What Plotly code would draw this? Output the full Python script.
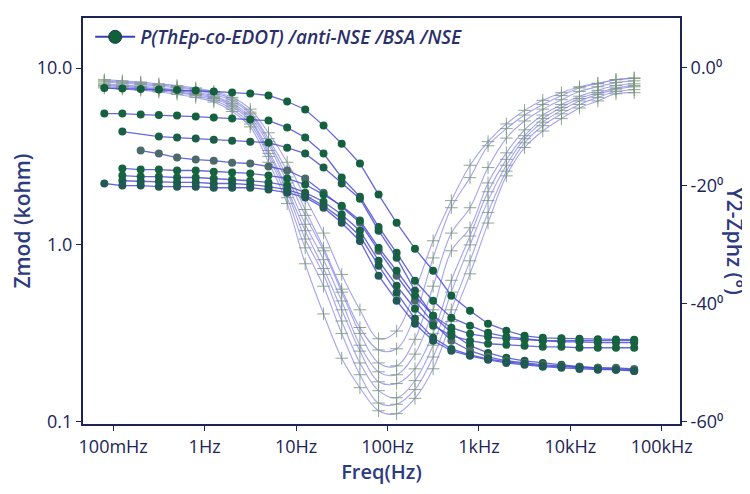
import plotly.graph_objects as go

freq_hz = [0.08, 0.126, 0.2, 0.316, 0.5, 0.8, 1.26, 2.0, 3.16, 5.0,
           8.0, 12.6, 20.0, 31.6, 50.0, 80.0, 126.0, 200.0, 316.0, 500.0,
           800.0, 1260.0, 2000.0, 3160.0, 5000.0, 8000.0, 12600.0, 20000.0, 31600.0, 50000.0]

legend_name = "<i>P(ThEp-co-EDOT) /anti-NSE /BSA /NSE</i>"

# Zmod (kohm) per measurement
zmod_a = [7.70, 7.65, 7.60, 7.55, 7.50, 7.45, 7.36, 7.26, 7.17, 6.99, 6.46, 5.82, 4.72, 3.73, 2.88,
          1.92, 1.33, 0.949, 0.712, 0.514, 0.423, 0.357, 0.326, 0.305, 0.297, 0.295, 0.293, 0.292, 0.291, 0.290]
zmod_d = [5.52, 5.52, 5.45, 5.42, 5.38, 5.31, 5.24, 5.17, 5.11, 5.04, 4.60, 4.04, 3.28, 2.40, 1.87,
          1.26, 0.90, 0.625, 0.482, 0.386, 0.348, 0.317, 0.301, 0.293, 0.286, 0.282, 0.282, 0.279, 0.279, 0.279]
zmod_e = [None, 4.37, None, 4.09, 4.04, 3.99, 3.93, 3.88, 3.83, 3.78, 3.54, 3.28, 2.73, 2.22, 1.82,
          1.20, 0.844, 0.549, 0.396, 0.317, 0.268, 0.244, 0.229, 0.220, 0.214, 0.209, 0.204, 0.201, 0.198, 0.196]
zmod_f = [None, None, 3.41, 3.28, 3.11, 3.03, 2.99, 2.91, 2.88, 2.77, 2.63, 2.37, 1.97, 1.64, 1.33,
          0.925, 0.667, 0.482, 0.361, 0.286, 0.251, 0.232, 0.220, 0.214, 0.209, 0.206, 0.204, 0.201, 0.201, 0.198]
zmod_g = [None, 2.70, 2.66, 2.66, 2.63, 2.63, 2.59, 2.56, 2.53, 2.46, 2.37, 2.19, 1.92, 1.66, 1.37,
          0.962, 0.712, 0.514, 0.396, 0.339, 0.313, 0.301, 0.293, 0.290, 0.286, 0.286, 0.286, 0.286, 0.286, 0.286]
zmod_h = [None, 2.46, 2.43, 2.43, 2.40, 2.40, 2.37, 2.33, 2.30, 2.25, 2.16, 1.97, 1.75, 1.48, 1.20,
          0.812, 0.586, 0.434, 0.348, 0.305, 0.286, 0.275, 0.271, 0.268, 0.264, 0.264, 0.261, 0.261, 0.261, 0.261]
zmod_i = [None, 2.30, 2.28, 2.28, 2.25, 2.25, 2.22, 2.22, 2.19, 2.13, 2.05, 1.90, 1.66, 1.40, 1.12,
          0.760, 0.535, 0.381, 0.297, 0.257, 0.238, 0.226, 0.217, 0.212, 0.206, 0.204, 0.201, 0.198, 0.196, 0.193]
zmod_j = [2.22, 2.16, 2.16, 2.13, 2.13, 2.13, 2.10, 2.10, 2.10, 2.05, 1.97, 1.85, 1.62, 1.33, 1.05,
          0.667, 0.482, 0.357, 0.286, 0.251, 0.235, 0.223, 0.214, 0.209, 0.204, 0.201, 0.198, 0.196, 0.196, 0.193]

# Phase (degrees) per measurement
phase_1 = [-2.0, -2.2, -2.4, -2.7, -3.0, -3.4, -4.0, -5.0, -7.0, -11, -16, -22, -28, -35, -41,
           -45.9, -44.6, -37.8, -29.3, -22.5, -16.5, -12.5, -9.5, -7.2, -5.5, -4.2, -3.2, -2.6, -2.0, -1.7]
phase_2 = [-2.2, -2.4, -2.6, -2.9, -3.2, -3.6, -4.2, -5.3, -7.5, -12, -17.5, -24, -30.5, -37.5, -44,
           -47.8, -47.6, -42, -32.2, -23.7, -18.6, -13.2, -10.3, -8.0, -6.2, -4.7, -3.4, -2.7, -2.0, -1.8]
phase_3 = [-2.4, -2.6, -2.8, -3.1, -3.4, -3.8, -4.5, -5.6, -7.8, -12.5, -18.5, -25, -31, -38, -45,
           -50, -50.5, -46, -37, -28, -23.7, -16.9, -11.9, -9.0, -7.0, -5.4, -4.0, -3.2, -2.5, -2.2]
phase_4 = [-2.7, -2.9, -3.1, -3.4, -3.7, -4.1, -4.8, -6.0, -8.3, -13, -19.5, -26.5, -32.5, -39.5, -47,
           -51.5, -52, -48.5, -41, -31, -27.1, -19.5, -14.4, -10.5, -8.0, -6.2, -4.8, -3.8, -3.0, -2.7]
phase_5 = [-2.9, -3.1, -3.3, -3.6, -3.9, -4.3, -5.0, -6.3, -8.7, -14, -20.5, -27.6, -34, -41, -48,
           -53.2, -53.5, -51, -45, -36, -28.5, -21, -15.5, -11.5, -8.6, -6.7, -5.2, -4.2, -3.4, -3.0]
phase_6 = [-3.0, -3.2, -3.4, -3.7, -4.0, -4.5, -5.2, -6.6, -9.0, -14.5, -21, -29, -35, -42.9, -50,
           -54.7, -55.9, -53, -47, -38, -30, -22.5, -16.5, -12.0, -9.2, -7.2, -5.6, -4.5, -3.6, -3.2]
phase_7 = [-3.2, -3.4, -3.6, -3.9, -4.2, -4.7, -5.5, -7.0, -9.5, -15, -22, -30.5, -37, -45, -52,
           -56.8, -57, -54.5, -49, -41, -32.7, -24.5, -17.5, -12.7, -9.8, -7.8, -6.2, -5.0, -4.0, -3.7]
phase_8 = [-3.4, -3.6, -3.8, -4.1, -4.5, -5.0, -5.8, -7.4, -10, -16, -23, -33.2, -41.7, -49.2, -54.2,
           -58.1, -58.6, -56, -51, -43, -34.9, -26.3, -18.3, -13.5, -10.7, -8.6, -6.8, -5.6, -4.4, -4.2]

x_tickvals = [0.1, 1, 10, 100, 1000, 10000, 100000]
x_ticktext = ["100mHz", "1Hz", "10Hz", "100Hz", "1kHz", "10kHz", "100kHz"]
zmod_tickvals = [0.1, 1, 10]
zmod_ticktext = ["0.1", "1.0", "10.0"]
phase_tickvals = [0, -20, -40, -60]
phase_ticktext = ["0.0\u2070", "-20\u2070", "-40\u2070", "-60\u2070"]

zmod_series = [zmod_a, zmod_d, zmod_e, zmod_f, zmod_g, zmod_h, zmod_i, zmod_j]
zmod_marker_colors = ["#12603c", "#16623e", "#1a5f45", "#4d6a6a", "#15643f", "#17633f", "#1a5e48", "#205a52"]
phase_series = [phase_1, phase_2, phase_3, phase_4, phase_5, phase_6, phase_7, phase_8]

navy = "#1c2456"
title_col = "#2c3a80"
font_fam = "Open Sans, Noto Sans, sans-serif"

fig = go.Figure()

for ph in phase_series:
    fig.add_trace(go.Scatter(
        x=freq_hz, y=ph, yaxis="y", mode="lines+markers",
        line=dict(color="rgba(125,125,235,0.7)", width=1.1, shape="spline"),
        marker=dict(symbol="cross-thin", size=9,
                    line=dict(color="rgba(125,150,120,0.85)", width=1)),
        showlegend=False, hoverinfo="skip"))

for i, zm in enumerate(zmod_series):
    fig.add_trace(go.Scatter(
        x=freq_hz, y=zm, yaxis="y2", mode="lines+markers", connectgaps=True,
        line=dict(color="rgba(75,75,215,0.85)", width=1.3),
        marker=dict(symbol="circle", size=8, color=zmod_marker_colors[i]),
        name=legend_name, showlegend=False))

# legend entry
fig.add_trace(go.Scatter(
    x=[None], y=[None], yaxis="y2", mode="lines+markers",
    line=dict(color="#3b3fb5", width=2),
    marker=dict(symbol="circle", size=13, color="#10603a",
                line=dict(color="#1b3550", width=1)),
    name=legend_name, showlegend=True))

fig.update_layout(
    width=742, height=486,
    margin=dict(l=75, r=70, t=10, b=70),
    paper_bgcolor="white", plot_bgcolor="white",
    font=dict(family=font_fam, color=navy, size=18),
    showlegend=True,
    legend=dict(x=0.012, y=1.0, xanchor="left", yanchor="top",
                bgcolor="rgba(255,255,255,0)",
                font=dict(family=font_fam, size=19, color="#2a2f6a", weight=600),
                itemwidth=40, tracegroupgap=0),
    xaxis=dict(type="log", range=[-1.33, 5.2], automargin=False,
               tickvals=x_tickvals, ticktext=x_ticktext,
               ticks="outside", ticklen=5, tickcolor=navy,
               showline=True, linecolor=navy, linewidth=2, mirror=True,
               showgrid=False, zeroline=False,
               tickfont=dict(size=18, color=navy, weight=500),
               title=dict(text="Freq(Hz)", font=dict(size=20, color=title_col, weight=600), standoff=5)),
    yaxis=dict(range=[-60.35, 8.45], side="right", automargin=False,
               tickvals=phase_tickvals, ticktext=phase_ticktext,
               ticks="outside", ticklen=5, tickcolor=navy,
               showline=True, linecolor=navy, linewidth=2,
               showgrid=False, zeroline=False,
               tickfont=dict(size=18, color=navy, weight=500)),
    yaxis2=dict(type="log", range=[-1.015, 1.283], side="left", overlaying="y", automargin=False,
                tickvals=zmod_tickvals, ticktext=zmod_ticktext,
                ticks="outside", ticklen=5, tickcolor=navy,
                showline=True, linecolor=navy, linewidth=2,
                showgrid=False, zeroline=False,
                tickfont=dict(size=18, color=navy, weight=500),
                title=dict(text="Zmod (kohm)", font=dict(size=21, color=title_col, weight=600), standoff=3)),
    annotations=[dict(text="Y2-Zphz (\u00b0)", xref="paper", yref="paper",
                      x=1, y=0.45, xanchor="center", yanchor="middle",
                      xshift=55, textangle=90, showarrow=False,
                      font=dict(size=21, color=title_col, family=font_fam, weight=600))],
)

fig.write_html("out.html")
